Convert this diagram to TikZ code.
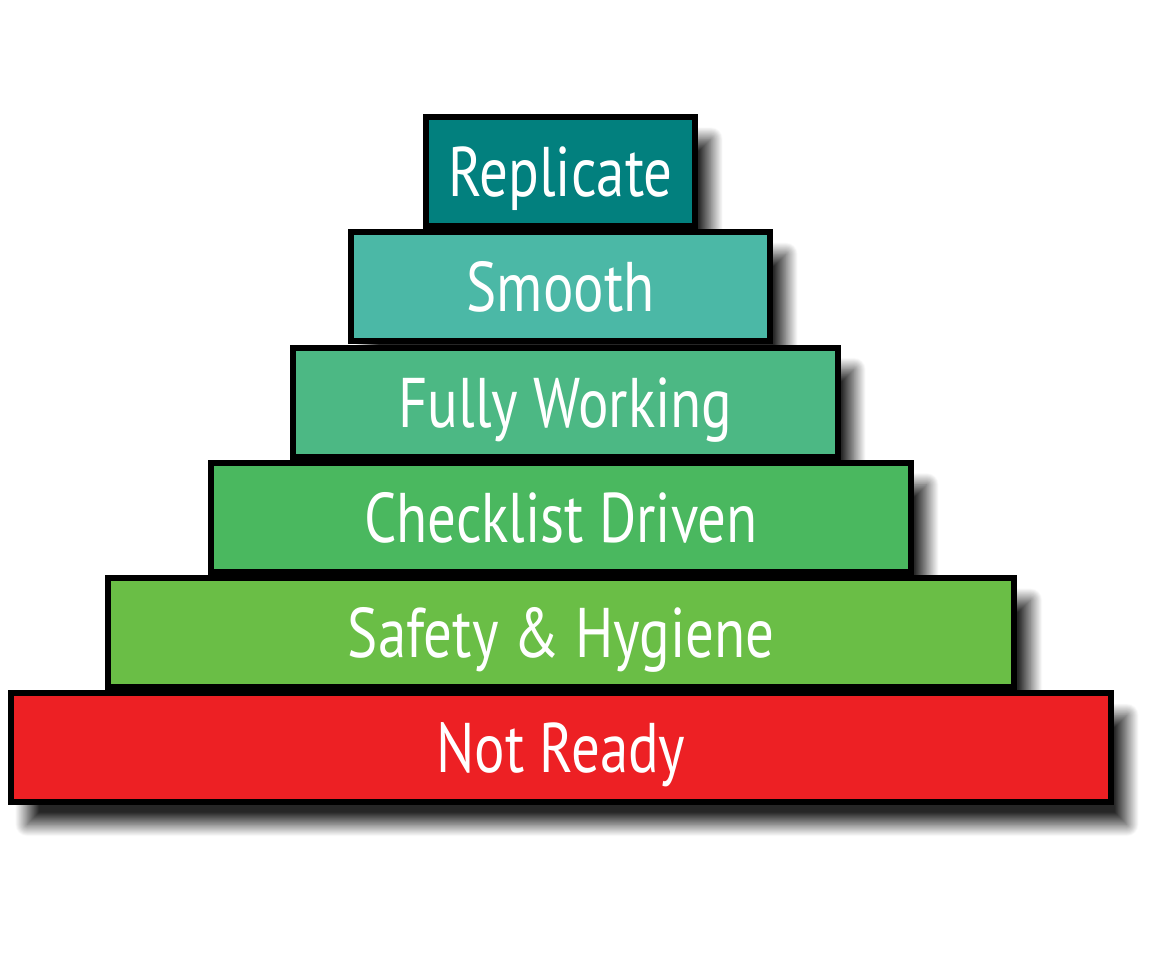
\documentclass[tikz,border=0pt]{standalone}
\usepackage{fontspec}
\setmainfont[FakeStretch=0.81]{PT Sans}
\usepackage{xcolor}
\usepackage{tikz}
\usetikzlibrary{shapes, shadows.blur}
\definecolor{replicatecol}{HTML}{02807E}
\definecolor{smoothcol}{HTML}{4BB8A6}
\definecolor{workingcol}{HTML}{4CB884}
\definecolor{checklistcol}{HTML}{4AB85F}
\definecolor{safetycol}{HTML}{6ABE46}
\definecolor{notreadycol}{HTML}{ED2024}
\tikzstyle{level} = [rectangle, draw=black, line width=0.12cm, inner sep=0pt,
    minimum height=2.18cm, text height=1cm, text depth=0pt, text=white,
    font=\fontsize{40}{40}\selectfont,
    blur shadow={shadow xshift=0.32cm, shadow yshift=-0.44cm,
      shadow blur radius=0.24cm, shadow blur steps=30, shadow opacity=85}]

\begin{document}
\begin{tikzpicture}[x=0.02cm, y=0.02cm, node distance = 2.306cm]
    \useasboundingbox (0,0) rectangle (1152,-960);
    % Levels, top to bottom
    \node [level, fill=replicatecol, minimum width=5.38cm] at (560.5,-171.5) (replicate) {Replicate};
    \node [level, fill=smoothcol, minimum width=8.38cm, below of=replicate] (smooth) {Smooth};
    \node [level, fill=workingcol, minimum width=10.9cm, below of=smooth, xshift=0.1cm] (working) {Fully Working};
    \node [level, fill=checklistcol, minimum width=14cm, below of=working, xshift=-0.09cm] (checklist) {Checklist Driven};
    \node [level, fill=safetycol, minimum width=18.14cm, below of=checklist] (safety) {Safety \& Hygiene};
    \node [level, fill=notreadycol, minimum width=22cm, below of=safety] (notready) {Not Ready};
\end{tikzpicture}
\end{document}
